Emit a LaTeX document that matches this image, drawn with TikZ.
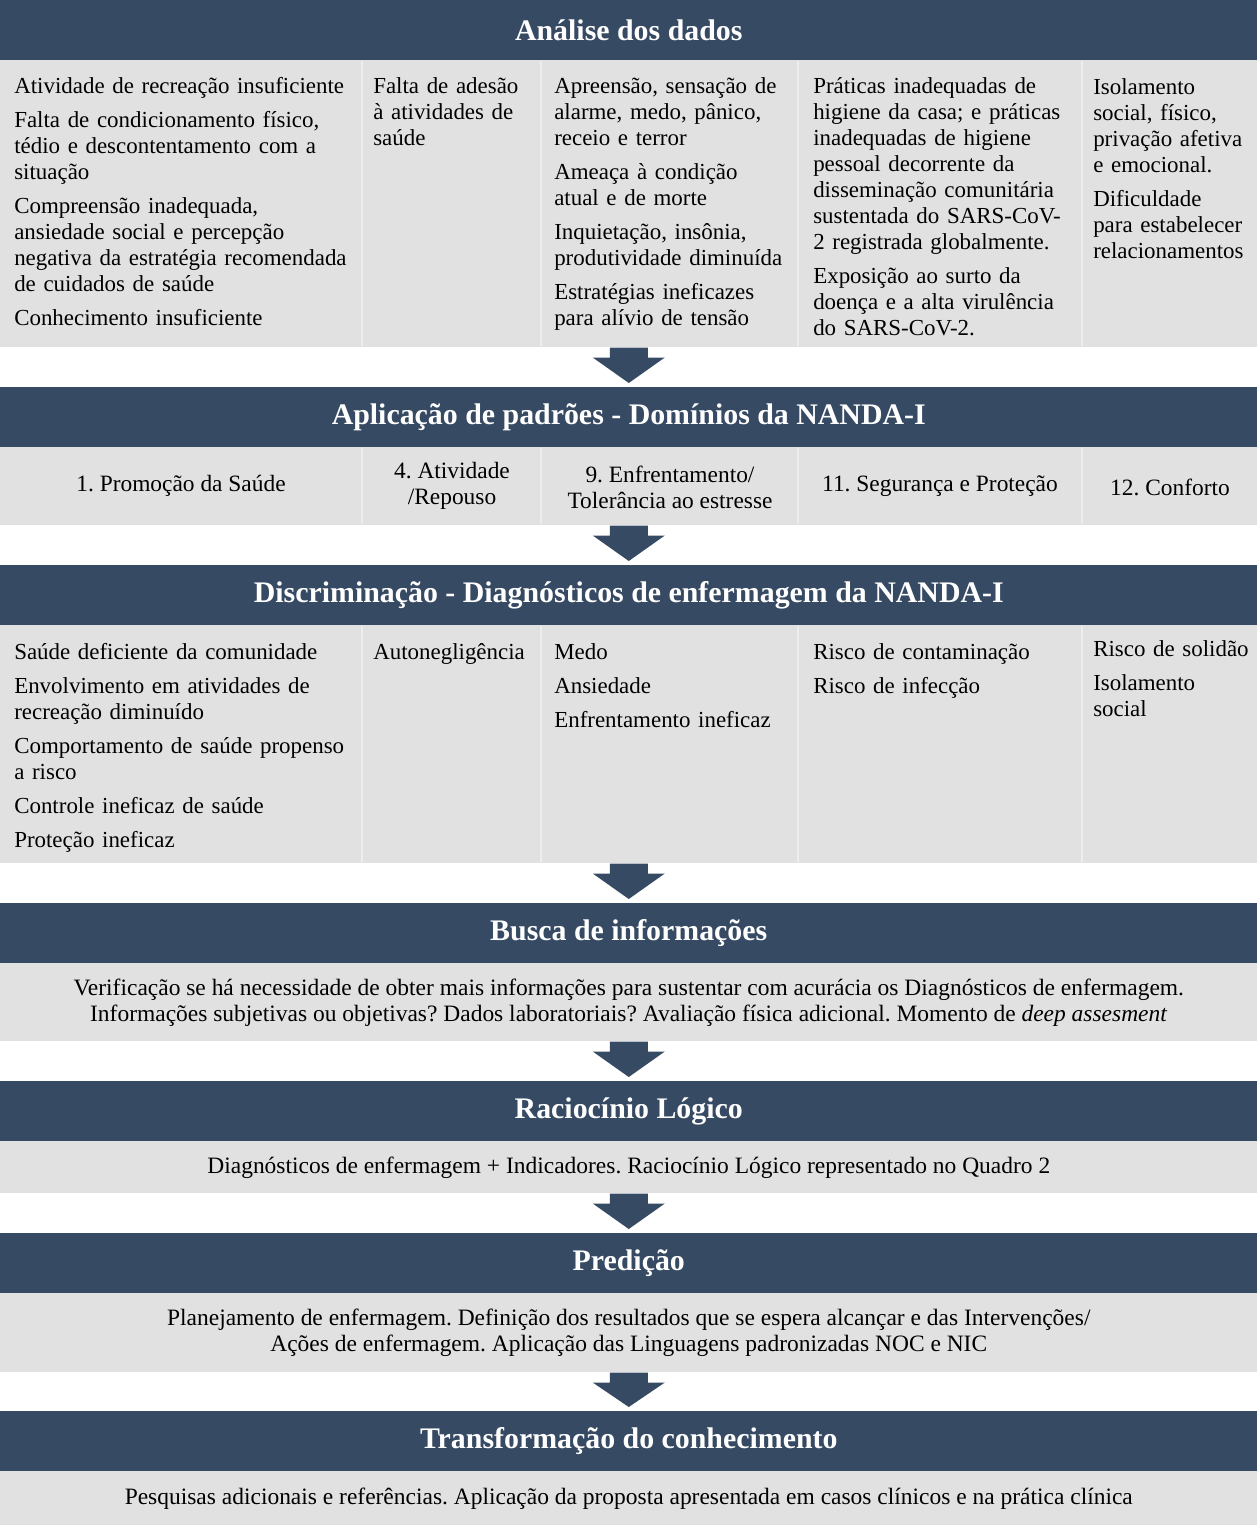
\documentclass[tikz,border=0pt]{standalone}
\usepackage{fontspec}
\setmainfont{Liberation Serif}
\usetikzlibrary{calc}
\frenchspacing
\definecolor{hdrblue}{HTML}{374A63}
\definecolor{bodygrey}{HTML}{E1E1E1}
\definecolor{sepgrey}{HTML}{EDEDED}
\newcommand\flowarrow[2]{%
  \fill[hdrblue] ($(#1.south)+(-19,0)$) -- ($(#1.south)+(19,0)$) -- ($(#1.south)+(19,10)$)
    -- ($(#1.south)+(36,10)$) -- ($(#2.north)+(0,-4)$) -- ($(#1.south)+(-36,10)$)
    -- ($(#1.south)+(-19,10)$) -- cycle;}
\begin{document}
\begin{tikzpicture}[x=0.75pt,y=-0.75pt,
  hdrbox/.style={rectangle, fill=hdrblue, draw=none, inner sep=0, anchor=north west,
    minimum width=942.75pt, minimum height=45pt, text=white,
    font=\fontsize{22.4}{26}\selectfont\bfseries\frenchspacing},
  bodybox/.style={rectangle, fill=bodygrey, draw=none, inner sep=0, anchor=north west,
    minimum width=942.75pt, align=center, font=\fontsize{17.6}{19.5}\selectfont\frenchspacing},
  coltext/.style={inner sep=0, anchor=base west, text width=300pt, align=left,
    font=\fontsize{17.2}{19.5}\selectfont\frenchspacing},
  ctrtext/.style={inner sep=0, anchor=center, align=center,
    font=\fontsize{17.55}{19.5}\selectfont\frenchspacing},
  colsep/.style={draw=sepgrey, line width=1.2pt}]
\useasboundingbox (0,0) rectangle (1258,1525);
\fill[white] (0,0) rectangle (1258,1525);

% headers
\node[hdrbox] (h1) at (0,0) {Análise dos dados};
\node[hdrbox] (h2) at (0,387) {Aplicação de padrões - Domínios da NANDA-I};
\node[hdrbox] (h3) at (0,565) {Discriminação - Diagnósticos de enfermagem da NANDA-I};
\node[hdrbox] (h4) at (0,903) {Busca de informações};
\node[hdrbox] (h5) at (0,1081) {Raciocínio Lógico};
\node[hdrbox] (h6) at (0,1233) {Predição};
\node[hdrbox] (h7) at (0,1411) {Transformação do conhecimento};

% bodies
\node[bodybox, minimum height=215.25pt] (b1) at (0,60) {};
\node[bodybox, minimum height=58.5pt] (b2) at (0,447) {};
\node[bodybox, minimum height=178.5pt] (b3) at (0,625) {};
\node[bodybox, minimum height=58.5pt] (b4) at (0,963) {Verificação se há necessidade de obter mais informações para sustentar com acurácia os Diagnósticos de enfermagem.\\ Informações subjetivas ou objetivas? Dados laboratoriais? Avaliação física adicional. Momento de \textit{deep assesment}};
\node[bodybox, minimum height=39pt] (b5) at (0,1141) {Diagnósticos de enfermagem + Indicadores. Raciocínio Lógico representado no Quadro 2};
\node[bodybox, minimum height=59.25pt] (b6) at (0,1293) {Planejamento de enfermagem. Definição dos resultados que se espera alcançar e das Intervenções/\\ Ações de enfermagem. Aplicação das Linguagens padronizadas NOC e NIC};
\node[bodybox, minimum height=40.5pt] (b7) at (0,1471) {Pesquisas adicionais e referências. Aplicação da proposta apresentada em casos clínicos e na prática clínica};

% column separators
\foreach \sx in {362,541,798,1082} {
  \draw[colsep] (\sx,61) -- (\sx,346);
  \draw[colsep] (\sx,448) -- (\sx,524);
  \draw[colsep] (\sx,626) -- (\sx,862);
}

% row 1 texts
\node[coltext] (t11) at (14,93) {Atividade de recreação insuficiente\\[6pt]
Falta de condicionamento físico,\\ tédio e descontentamento com a\\ situação\\[6pt]
Compreensão inadequada,\\ ansiedade social e percepção\\ negativa da estratégia recomendada\\ de cuidados de saúde\\[6pt]
Conhecimento insuficiente};
\node[coltext] (t12) at (373,93) {Falta de adesão\\ à atividades de\\ saúde};
\node[coltext] (t13) at (554,93) {Apreensão, sensação de\\ alarme, medo, pânico,\\ receio e terror\\[6pt]
Ameaça à condição\\ atual e de morte\\[6pt]
Inquietação, insônia,\\ produtividade diminuída\\[6pt]
Estratégias ineficazes\\ para alívio de tensão};
\node[coltext] (t14) at (813,93) {Práticas inadequadas de\\ higiene da casa; e práticas\\ inadequadas de higiene\\ pessoal decorrente da\\ disseminação comunitária\\ sustentada do SARS-CoV-\\ 2 registrada globalmente.\\[6pt]
Exposição ao surto da\\ doença e a alta virulência\\ do SARS-CoV-2.};
\node[coltext] (t15) at (1093,94) {Isolamento\\ social, físico,\\ privação afetiva\\ e emocional.\\[6pt]
Dificuldade\\ para estabelecer\\ relacionamentos};

% row 2 texts
\node[ctrtext] (t21) at (181,486) {1. Promoção da Saúde};
\node[ctrtext] (t22) at (452,486) {4. Atividade\\ /Repouso};
\node[ctrtext] (t23) at (670,487) {9. Enfrentamento/\\ Tolerância ao estresse};
\node[ctrtext] (t24) at (940,486) {11. Segurança e Proteção};
\node[ctrtext] (t25) at (1170,487) {12. Conforto};

% row 3 texts
\node[coltext] (t31) at (14,659) {Saúde deficiente da comunidade\\[6pt]
Envolvimento em atividades de\\ recreação diminuído\\[6pt]
Comportamento de saúde propenso\\ a risco\\[6pt]
Controle ineficaz de saúde\\[6pt]
Proteção ineficaz};
\node[coltext] (t32) at (373,659) {Autonegligência};
\node[coltext] (t33) at (554,659) {Medo\\[6pt] Ansiedade\\[6pt] Enfrentamento ineficaz};
\node[coltext] (t34) at (813,659) {Risco de contaminação\\[6pt] Risco de infecção};
\node[coltext] (t35) at (1093,656) {Risco de solidão\\[6pt] Isolamento\\ social};

% arrows
\flowarrow{b1}{h2}
\flowarrow{b2}{h3}
\flowarrow{b3}{h4}
\flowarrow{b4}{h5}
\flowarrow{b5}{h6}
\flowarrow{b6}{h7}
\end{tikzpicture}
\end{document}
